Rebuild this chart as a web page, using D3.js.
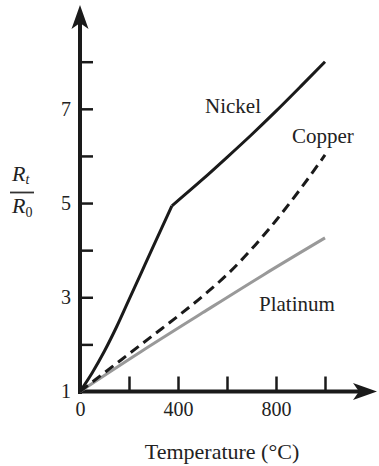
<!DOCTYPE html>
<html>
<head>
<meta charset="utf-8">
<script src="https://cdn.jsdelivr.net/npm/d3@7"></script>
<style>
  body { margin: 0; background: #fff; }
  svg text { font-family: "Liberation Serif", "Times New Roman", "DejaVu Serif", serif; }
</style>
</head>
<body>
<script>
var w = 379;
var h = 466;
var serif = "'Liberation Serif', 'Times New Roman', 'DejaVu Serif', serif";

// readings from the chart: temperature (°C) and Rt/R0
// nickel has a sharp knee at about 375 °C, so it is drawn as two pieces
var nickelLowT = [0, 50, 100, 150, 200, 250, 300, 375];
var nickelLowR = [1, 1.4, 1.86, 2.38, 2.95, 3.52, 4.09, 4.94];
var nickelHighT = [375, 500, 600, 700, 800, 900, 1000];
var nickelHighR = [4.94, 5.5, 5.97, 6.45, 6.95, 7.47, 8.0];

var copperT = [0, 100, 200, 300, 400, 500, 600, 700, 800, 900, 1000];
var copperR = [1, 1.4, 1.8, 2.2, 2.6, 3.02, 3.48, 4.02, 4.63, 5.3, 6.02];

var platinumT = [0, 250, 500, 750, 1000];
var platinumR = [1, 1.85, 2.67, 3.48, 4.26];

var xTicks = [200, 400, 600, 800, 1000];
var xLabels = [0, 400, 800];
var yTicks = [2, 3, 4, 5, 6, 7, 8];
var yLabels = [1, 3, 5, 7];

var x = d3.scaleLinear().domain([0, 1000]).range([80, 325]);
var y = d3.scaleLinear().domain([1, 8]).range([391.5, 61.7]);

var svg = d3.select("body").append("svg")
            .attr("width", w)
            .attr("height", h);

// tick marks, drawn inward
var yt = svg.append("g")
            .attr("transform", "translate(80,0)")
            .call(d3.axisRight(y).tickValues(yTicks).tickSize(13).tickFormat(""));
var xt = svg.append("g")
            .attr("transform", "translate(0,391.5)")
            .call(d3.axisTop(x).tickValues(xTicks).tickSize(15).tickFormat(""));
[yt, xt].forEach(function(g) {
  g.select(".domain").remove();
  g.selectAll("line").attr("stroke", "#1a1a1a").attr("stroke-width", 2.5);
});

// tick labels
var yl = svg.append("g")
            .attr("transform", "translate(80,0)")
            .call(d3.axisLeft(y).tickValues(yLabels).tickSize(0).tickPadding(9).tickFormat(d3.format("d")));
var xl = svg.append("g")
            .attr("transform", "translate(0,391.5)")
            .call(d3.axisBottom(x).tickValues(xLabels).tickSize(0).tickPadding(10).tickFormat(d3.format("d")));
[yl, xl].forEach(function(g) {
  g.attr("font-family", serif).attr("font-size", 20);
  g.select(".domain").remove();
  g.selectAll("text")
   .attr("font-family", serif)
   .attr("font-size", "20px")
   .attr("fill", "#222");
});

// axis lines with arrow heads
svg.append("line")
   .attr("x1", 80).attr("y1", 394)
   .attr("x2", 80).attr("y2", 20)
   .attr("stroke", "#1a1a1a").attr("stroke-width", 4);
svg.append("line")
   .attr("x1", 78).attr("y1", 391.5)
   .attr("x2", 362).attr("y2", 391.5)
   .attr("stroke", "#1a1a1a").attr("stroke-width", 4);
svg.append("path")
   .attr("d", "M80,5 L88.5,29 L80,23 L71.5,29 Z")
   .attr("fill", "#1a1a1a");
svg.append("path")
   .attr("d", "M377,391.5 L353,383 L359,391.5 L353,400 Z")
   .attr("fill", "#1a1a1a");

// curves
var line = d3.line()
             .x(function(d) { return x(d[0]); })
             .y(function(d) { return y(d[1]); })
             .curve(d3.curveMonotoneX);

var series = [
  { t: platinumT, r: platinumR, color: "#999", dash: null },
  { t: copperT, r: copperR, color: "#1a1a1a", dash: "10,6" },
  { t: nickelLowT, r: nickelLowR, color: "#1a1a1a", dash: null },
  { t: nickelHighT, r: nickelHighR, color: "#1a1a1a", dash: null }
];

svg.selectAll("path.curve")
   .data(series)
   .enter()
   .append("path")
   .attr("class", "curve")
   .attr("d", function(s) { return line(d3.zip(s.t, s.r)); })
   .attr("fill", "none")
   .attr("stroke", function(s) { return s.color; })
   .attr("stroke-width", 3)
   .attr("stroke-linejoin", "round")
   .attr("stroke-dasharray", function(s) { return s.dash; });

// series names
var names = [["Nickel", 205, 113], ["Copper", 292, 143], ["Platinum", 259, 311]];
svg.selectAll("text.name")
   .data(names)
   .enter()
   .append("text")
   .attr("class", "name")
   .attr("x", function(d) { return d[1]; })
   .attr("y", function(d) { return d[2]; })
   .attr("font-family", serif)
   .attr("font-size", "21px")
   .attr("fill", "#222")
   .text(function(d) { return d[0]; });

// axis titles
svg.append("text")
   .attr("x", 222).attr("y", 459)
   .attr("text-anchor", "middle")
   .attr("font-family", serif)
   .attr("font-size", "22px")
   .attr("fill", "#222")
   .text("Temperature (°C)");

var rt = svg.append("text")
            .attr("x", 12).attr("y", 181)
            .attr("font-family", serif)
            .attr("font-size", "22px")
            .attr("fill", "#222");
rt.append("tspan").attr("font-style", "italic").text("R");
rt.append("tspan").attr("font-style", "italic").attr("font-size", "14px").attr("dy", 3).text("t");

svg.append("line")
   .attr("x1", 10).attr("x2", 34)
   .attr("y1", 192.5).attr("y2", 192.5)
   .attr("stroke", "#333").attr("stroke-width", 1.8);

var r0 = svg.append("text")
            .attr("x", 12).attr("y", 213)
            .attr("font-family", serif)
            .attr("font-size", "22px")
            .attr("fill", "#222");
r0.append("tspan").attr("font-style", "italic").text("R");
r0.append("tspan").attr("font-size", "14px").attr("dy", 4).text("0");
</script>
</body>
</html>
